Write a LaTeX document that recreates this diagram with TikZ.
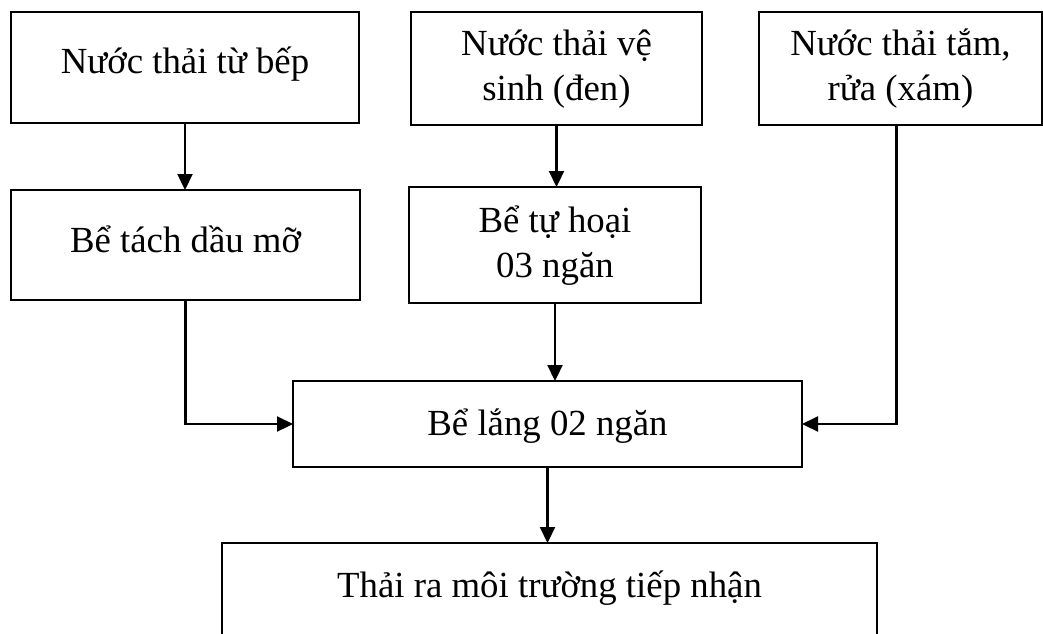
\documentclass[tikz,border=0pt]{standalone}
\usepackage{fontspec}
\setmainfont{Liberation Serif}
\usetikzlibrary{arrows.meta}
\tikzset{
  box/.style={draw, line width=2.2pt, inner sep=0pt, outer sep=0pt, anchor=north west,
    font=\fontsize{36.8}{45}\selectfont},
  arr/.style={line width=2.2pt, -{Triangle[length=16pt,width=15pt]}},
  ln/.style={line width=2.2pt}
}
\newcommand{\twol}[2]{\begin{tabular}[t]{@{}c@{}}#1\\#2\end{tabular}}
\begin{document}
\begin{tikzpicture}[x=1pt,y=-1pt]
\useasboundingbox (0,0) rectangle (1043,633);
\node[box, minimum width=348pt, text height=61pt, text depth=50pt] (a) at (11,12) {Nước thải từ bếp};
\node[box, minimum width=291pt, text height=43pt, text depth=70pt] (b) at (411,12) {\twol{Nước thải vệ}{sinh (đen)}};
\node[box, minimum width=283pt, text height=43pt, text depth=70pt] (c) at (759,12) {\twol{Nước thải tắm,}{rửa (xám)}};
\node[box, minimum width=349pt, text height=62pt, text depth=48pt] (d) at (11,190) {Bể tách dầu mỡ};
\node[box, minimum width=292pt, text height=45pt, text depth=71pt] (e) at (409,187) {\twol{Bể tự hoại}{03 ngăn}};
\node[box, minimum width=509pt, text height=54pt, text depth=32pt] (f) at (293,381) {Bể lắng 02 ngăn};
\node[box, minimum width=655pt, text height=54pt, text depth=63pt] (g) at (222,543) {Thải ra môi trường tiếp nhận};
\draw[arr] (a.south) -- (a.south |- d.north);
\draw[arr] (b.south) -- (b.south |- e.north);
\draw[arr] (d.south) |- (f.west);
\draw[arr] (e.south) -- (e.south |- f.north);
\draw[arr] ([xshift=-4pt]c.south) |- (f.east);
\draw[arr] (f.south) -- (f.south |- g.north);
\end{tikzpicture}
\end{document}
